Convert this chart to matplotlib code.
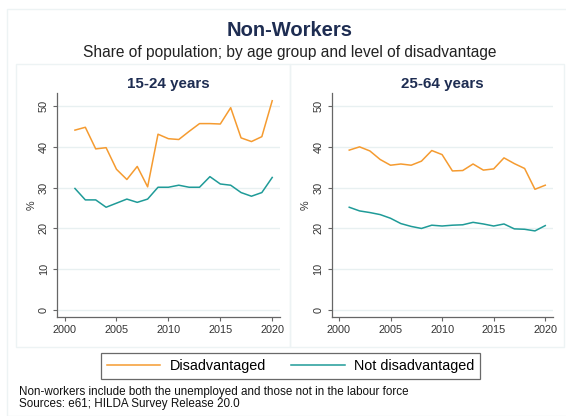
import matplotlib
matplotlib.use("Agg")
import matplotlib.pyplot as plt
from matplotlib.patches import Rectangle
from matplotlib.lines import Line2D

# ======================
# DATA
# ======================
years = list(range(2001, 2021))

young_disadv = [44.1, 44.8, 39.5, 39.8, 34.5, 32.0, 35.2, 30.2, 43.1, 42.0,
                41.8, 43.8, 45.7, 45.7, 45.6, 49.6, 42.2, 41.3, 42.5, 51.3]
young_not = [29.8, 27.0, 27.0, 25.2, 26.2, 27.2, 26.4, 27.2, 30.1, 30.1,
             30.6, 30.1, 30.1, 32.7, 30.9, 30.6, 28.8, 27.9, 28.8, 32.5]

prime_disadv = [39.2, 40.0, 39.0, 36.9, 35.5, 35.8, 35.5, 36.5, 39.1, 38.1,
                34.1, 34.2, 35.8, 34.3, 34.6, 37.3, 35.9, 34.7, 29.6, 30.6]
prime_not = [25.2, 24.3, 23.9, 23.4, 22.5, 21.2, 20.5, 20.0, 20.8, 20.6,
             20.8, 20.9, 21.5, 21.1, 20.6, 21.1, 19.9, 19.8, 19.4, 20.7]

panel_titles = ["15-24 years", "25-64 years"]
series_names = ["Disadvantaged", "Not disadvantaged"]
x_ticks = [2000, 2005, 2010, 2015, 2020]
y_ticks = [0, 10, 20, 30, 40, 50]

# ======================
# STYLE
# ======================
ORANGE = "#f59b30"
TEAL = "#1f9b98"
NAVY = "#1e2d52"
FRAME = "#edf3f4"
GRID = "#e8f0f1"
AXIS = "#666666"

plt.rcParams["font.family"] = ["Liberation Sans", "DejaVu Sans"]

W, H = 566, 416
fig = plt.figure(figsize=(W / 100, H / 100), dpi=100)


def fx(px):
    return px / W


def fy(py):
    return 1 - py / H


# frames
fig.patches.append(Rectangle((fx(7), 0), 1, fy(9), transform=fig.transFigure,
                             fill=False, edgecolor=FRAME, lw=1))
for x0, x1 in [(16, 290), (290, 564)]:
    fig.patches.append(Rectangle((fx(x0), fy(347)), fx(x1 - x0), (347 - 64) / H,
                                 transform=fig.transFigure, fill=False,
                                 edgecolor=FRAME, lw=1))

fig.text(fx(290), fy(31), "Non-Workers", ha="center", va="center",
         fontsize=14.5, fontweight="bold", color=NAVY)
fig.text(fx(290), fy(53), "Share of population; by age group and level of disadvantage",
         ha="center", va="center", fontsize=11.2, color="#222222")

# ======================
# PANELS
# ======================
positions = [(57.3, 280), (331.7, 553)]
data = [(young_disadv, young_not), (prime_disadv, prime_not)]

for (left, right), title, (dis, nd) in zip(positions, panel_titles, data):
    ax = fig.add_axes([fx(left), fy(317), fx(right - left), (317 - 93) / H])
    ax.plot(years, dis, color=ORANGE, lw=1.1)
    ax.plot(years, nd, color=TEAL, lw=1.1)

    ax.set_xlim(1999.3, 2020.75)
    ax.set_ylim(-1.7, 53.2)
    ax.set_xticks(x_ticks)
    ax.set_yticks(y_ticks)
    ax.set_yticklabels([str(v) for v in y_ticks], rotation=90, va="center")
    ax.grid(axis="y", color=GRID, lw=1)
    ax.set_axisbelow(True)
    for s in ["top", "right"]:
        ax.spines[s].set_visible(False)
    for s in ["left", "bottom"]:
        ax.spines[s].set_color(AXIS)
        ax.spines[s].set_linewidth(0.9)
    ax.tick_params(colors=AXIS, labelcolor="#333333", labelsize=7.8,
                   length=3, width=0.8, pad=3)
    ax.set_ylabel("%", fontsize=7.8, color="#333333", labelpad=2)
    fig.text(fx((left + right) / 2), fy(84), title, ha="center", va="center",
             fontsize=10.9, fontweight="bold", color=NAVY)

# ======================
# LEGEND + NOTES
# ======================
handles = [Line2D([], [], color=ORANGE, lw=1.1), Line2D([], [], color=TEAL, lw=1.1)]
leg = fig.legend(handles, series_names, loc="center", bbox_to_anchor=(fx(290.5), fy(366)),
                 ncol=2, fontsize=10.4, frameon=True, fancybox=False,
                 handlelength=3.7, columnspacing=1.75, handletextpad=0.65,
                 borderpad=0.4, borderaxespad=0)
leg.get_frame().set_edgecolor("#444444")
leg.get_frame().set_linewidth(0.9)

fig.text(fx(19), fy(392), "Non-workers include both the unemployed and those not in the labour force",
         ha="left", va="center", fontsize=8.4, color="#111111")
fig.text(fx(19), fy(403.5), "Sources: e61; HILDA Survey Release 20.0",
         ha="left", va="center", fontsize=8.4, color="#111111")

fig.savefig("out.png", dpi=100)
